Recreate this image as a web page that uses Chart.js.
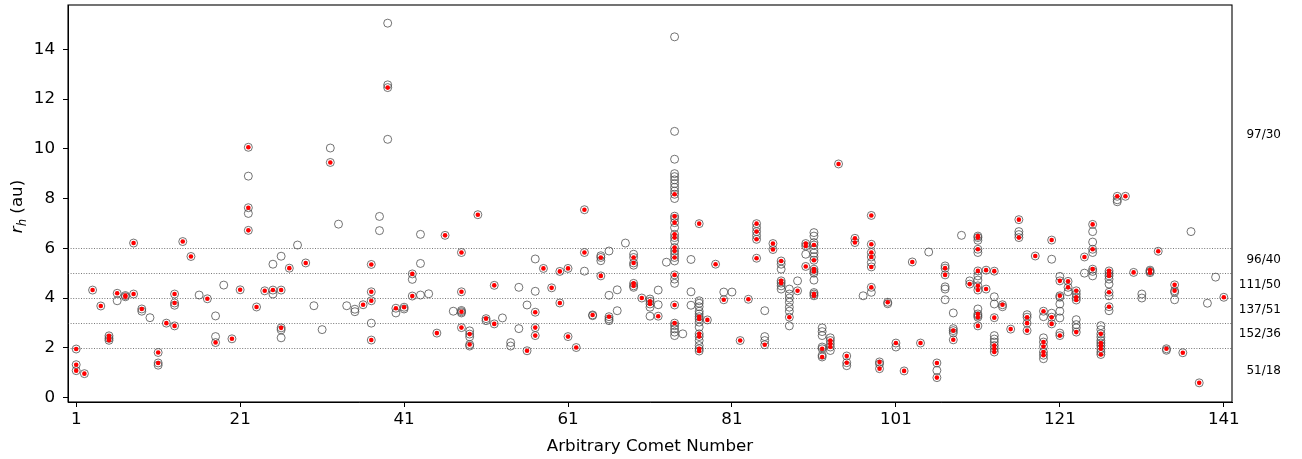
<!DOCTYPE html>
<html>
<head>
<meta charset="utf-8">
<script src="https://cdn.jsdelivr.net/npm/chart.js@4.4.1/dist/chart.umd.min.js"></script>
<style>
  html, body { margin: 0; padding: 0; background: #fff; }
  #wrap { width: 1302px; height: 459px; }
</style>
</head>
<body>
<div id="wrap"><canvas id="c" width="1302" height="459"></canvas></div>
<script>
// Heliocentric distance (au) of each observation, listed per comet (comet 1 .. 141).
// activeRh: observations where activity was detected; quietRh: the remaining observations.
const activeRh = [
  [1.95, 1.32, 1.08], [0.96], [4.32], [3.68], [2.48, 2.38, 2.3],
  [4.19], [4.1, 4.05], [6.21, 4.16], [3.56], [],
  [1.81, 1.39], [2.99], [4.16, 3.8, 2.88], [6.27], [5.67],
  [], [3.97], [2.21], [], [2.36],
  [4.33], [10.06, 7.63, 6.72], [3.64], [4.29], [4.32],
  [4.32, 2.8], [5.2], [], [5.41], [],
  [], [9.45], [], [], [],
  [3.73], [5.35, 4.25, 3.89, 2.31], [], [12.46], [3.59],
  [3.63], [4.97, 4.08], [], [], [2.59],
  [6.52], [], [5.83, 4.25, 3.45, 2.81], [2.55, 2.13], [7.35],
  [3.17], [4.51, 2.96], [], [], [],
  [1.88], [3.43, 2.81, 2.49], [5.19], [4.41], [5.07, 3.8],
  [5.19, 2.45], [2.01], [7.55, 5.83], [3.32], [5.63, 4.89],
  [3.25], [], [], [5.63, 5.41, 4.59, 4.49], [4.0],
  [3.87, 3.76], [3.27], [], [8.17, 7.29, 7.03, 6.56, 6.43, 6.03, 5.89, 5.63, 4.93, 3.72, 2.99], [],
  [], [6.99, 3.25, 3.16, 2.56, 2.45, 1.96, 1.87], [3.12], [5.36], [3.93],
  [], [2.29], [3.95], [6.99, 6.67, 6.36, 5.6], [2.12],
  [6.19, 5.95], [5.49, 4.69, 4.6], [3.23], [4.29], [6.19, 6.09, 5.27],
  [6.13, 5.52, 5.16, 5.07, 4.16, 4.09], [1.96, 1.63], [2.29, 2.16, 2.03], [9.39], [1.67, 1.4],
  [6.4, 6.23], [], [7.32, 6.16, 5.83, 5.65, 5.25, 4.43], [1.43, 1.16], [3.83],
  [2.19], [1.07], [5.45], [2.19], [],
  [1.39, 0.8], [5.2, 4.93], [2.69, 2.32], [], [4.56],
  [6.49, 6.43, 5.96, 5.09, 4.49, 4.32, 3.36, 3.23, 2.88], [5.12, 4.36], [5.08, 3.21, 2.09, 1.96, 1.83], [3.73], [2.75],
  [7.15, 6.43], [3.23, 2.99, 2.69], [5.69], [3.47, 2.23, 2.05, 1.83, 1.7], [6.33, 3.23, 2.96],
  [4.69, 4.09, 2.49], [4.67, 4.43], [4.29, 4.03, 3.92, 2.63], [5.65], [6.96, 5.96, 5.16],
  [2.56, 2.19, 2.09, 1.96, 1.73], [5.09, 4.99, 4.89, 4.23, 3.65], [8.09], [8.09], [5.03],
  [], [5.12, 5.02], [5.88], [1.96], [4.53, 4.29],
  [1.8], [], [0.59], [], [],
  [4.03]
];

const quietRh = [
  [], [], [], [], [],
  [3.89], [], [], [3.47], [3.21],
  [1.3], [], [3.71], [], [],
  [4.12], [], [3.28, 2.45], [4.52], [],
  [], [8.9, 7.4], [], [], [5.36, 4.16],
  [5.68, 2.72, 2.4], [], [6.13], [], [3.69],
  [2.73], [10.03], [6.97], [3.69], [3.55, 3.45],
  [], [2.99], [7.28, 6.71], [15.05, 12.57, 10.38], [3.4],
  [3.56], [4.75], [6.56, 5.39, 4.12], [4.17], [],
  [], [3.47], [3.5, 3.4], [2.68, 2.44, 2.07], [],
  [3.09], [], [3.2], [2.21, 2.07], [4.43, 2.77],
  [3.72], [5.57, 4.27], [], [], [],
  [], [], [5.08], [3.29], [5.7, 5.5],
  [5.89, 4.11, 3.16, 3.09], [4.33, 3.49], [6.21], [5.76, 5.32, 4.43], [],
  [3.96, 3.63, 3.27], [4.32, 3.73], [5.44],
  [14.5, 10.7, 9.58, 9.0, 8.88, 8.75, 8.6, 8.45, 8.3, 8.0, 7.2, 6.83, 6.29, 5.76, 5.49, 4.76, 4.59, 2.89, 2.76, 2.63, 2.49],
  [2.56],
  [5.55, 4.25, 3.71], [3.89, 3.79, 3.65, 3.47, 3.36, 3.03, 2.83, 2.29, 2.09], [], [], [4.24],
  [4.24], [], [], [6.83, 6.51], [3.49, 2.45, 2.29],
  [], [5.36, 5.16, 4.49, 4.36], [4.36, 4.16, 4.0, 3.83, 3.63, 3.47, 2.88], [4.69], [5.76],
  [6.63, 6.49, 6.23, 5.95, 5.8, 5.66, 5.0, 4.72, 4.22], [2.8, 2.65, 2.49, 2.03, 1.7], [2.4, 1.89], [], [1.28],
  [], [4.09], [5.43, 4.23], [1.35], [3.77],
  [2.03], [], [], [], [5.85],
  [1.09], [5.29, 4.45, 4.36, 3.93], [3.4, 2.77, 2.6], [6.52], [4.69],
  [6.32, 5.83, 4.89, 4.72, 3.56, 3.29], [], [4.05, 3.76, 2.49, 2.35, 2.23], [3.65], [],
  [6.67, 6.55], [3.33], [], [3.25, 2.4, 1.56], [5.56, 3.39],
  [4.87, 4.03, 3.76, 3.47, 3.2, 2.59], [4.25], [4.16, 3.13, 2.93, 2.8], [5.0], [6.67, 6.25, 5.83, 5.07, 4.89],
  [2.89, 2.73, 2.43, 2.29, 1.83], [4.76, 4.56, 4.09, 3.49], [7.95, 7.87], [], [],
  [4.16, 4.0], [5.07], [], [1.9], [4.23, 3.93],
  [], [6.67], [], [3.79], [4.84],
  []
];

// Axis ticks and reference levels
const xTickValues = [1, 21, 41, 61, 81, 101, 121, 141];
const yTickValues = [0, 2, 4, 6, 8, 10, 12, 14];
const referenceLevels = [2, 3, 4, 5, 6];

// Counts shown in the right margin, with the r_h at which each is written
const bandLabels = ['97/30', '96/40', '111/50', '137/51', '152/36', '51/18'];
const bandLabelRh = [10.54, 5.54, 4.54, 3.54, 2.54, 1.06];

const FONT = "'DejaVu Sans', 'Liberation Sans', sans-serif";

function toPoints(lists) {
  const pts = [];
  lists.forEach((vals, i) => vals.forEach(v => pts.push({ x: i + 1, y: v })));
  return pts;
}

const allPoints = toPoints(activeRh).concat(toPoints(quietRh));
const activePoints = toPoints(activeRh);

const decorations = {
  id: 'decorations',
  beforeDatasetsDraw(chart) {
    const { ctx, chartArea, scales } = chart;
    ctx.save();
    ctx.strokeStyle = '#555';
    ctx.lineWidth = 0.8;
    ctx.setLineDash([1, 1.6]);
    referenceLevels.forEach(v => {
      const y = Math.round(scales.y.getPixelForValue(v)) + 0.5;
      ctx.beginPath();
      ctx.moveTo(chartArea.left, y);
      ctx.lineTo(chartArea.right, y);
      ctx.stroke();
    });
    ctx.restore();
  },
  afterDraw(chart) {
    const { ctx, chartArea, scales } = chart;
    ctx.save();
    // frame
    ctx.strokeStyle = '#000';
    ctx.lineWidth = 1.1;
    ctx.strokeRect(chartArea.left, chartArea.top, chartArea.right - chartArea.left, chartArea.bottom - chartArea.top);

    // right-margin counts
    ctx.fillStyle = '#000';
    ctx.font = '12px ' + FONT;
    ctx.textAlign = 'right';
    ctx.textBaseline = 'middle';
    bandLabels.forEach((t, i) => {
      ctx.fillText(t, 1281, scales.y.getPixelForValue(bandLabelRh[i]));
    });

    // x axis title
    ctx.font = '16.7px ' + FONT;
    ctx.textAlign = 'center';
    ctx.textBaseline = 'alphabetic';
    ctx.fillText('Arbitrary Comet Number', (chartArea.left + chartArea.right) / 2, 451);

    // y axis title: italic r with subscript h, then (au)
    ctx.translate(22, (chartArea.top + chartArea.bottom) / 2 + 3);
    ctx.rotate(-Math.PI / 2);
    const fR = 'italic 16.7px ' + FONT;
    const fH = 'italic 11.7px ' + FONT;
    const fN = '16.7px ' + FONT;
    ctx.font = fR; const wR = ctx.measureText('r').width;
    ctx.font = fH; const wH = ctx.measureText('h').width;
    ctx.font = fN; const wN = ctx.measureText(' (au)').width;
    let x = -(wR + wH + wN) / 2;
    ctx.textAlign = 'left';
    ctx.font = fR; ctx.fillText('r', x, 0); x += wR;
    ctx.font = fH; ctx.fillText('h', x, 4); x += wH;
    ctx.font = fN; ctx.fillText(' (au)', x, 0);
    ctx.restore();
  }
};

new Chart(document.getElementById('c'), {
  type: 'scatter',
  data: {
    datasets: [
      {
        label: 'active',
        data: activePoints,
        order: 0,
        pointStyle: 'circle',
        pointRadius: 2.3,
        pointBorderWidth: 0,
        pointBackgroundColor: '#ff0000',
        borderColor: '#ff0000'
      },
      {
        label: 'all',
        data: allPoints,
        order: 1,
        pointStyle: 'circle',
        pointRadius: 4,
        pointBorderWidth: 1,
        pointBackgroundColor: 'rgba(255,255,255,0)',
        pointBorderColor: 'rgba(70,70,70,0.75)'
      }
    ]
  },
  options: {
    responsive: false,
    animation: false,
    events: [],
    layout: { padding: { left: 0, right: 70, top: 3, bottom: 0 } },
    plugins: { legend: { display: false }, tooltip: { enabled: false } },
    scales: {
      x: {
        type: 'linear',
        min: 0,
        max: 142,
        afterBuildTicks: s => { s.ticks = xTickValues.map(v => ({ value: v })); },
        afterFit: s => { s.height = 57; s.paddingLeft = 0; s.paddingRight = 0; },
        grid: { display: true, drawOnChartArea: false, drawTicks: true, tickLength: 5, color: '#000', lineWidth: 1 },
        border: { display: true, color: '#000', width: 1 },
        ticks: { color: '#000', font: { family: FONT, size: 16.7 }, padding: 3, maxRotation: 0, autoSkip: false }
      },
      y: {
        type: 'linear',
        min: -0.18,
        max: 15.78,
        afterBuildTicks: s => { s.ticks = yTickValues.map(v => ({ value: v })); },
        afterFit: s => { s.width = 68; s.paddingTop = 0; s.paddingBottom = 0; },
        grid: { display: true, drawOnChartArea: false, drawTicks: true, tickLength: 5, color: '#000', lineWidth: 1 },
        border: { display: true, color: '#000', width: 1 },
        ticks: { color: '#000', font: { family: FONT, size: 16.7 }, padding: 8, autoSkip: false }
      }
    }
  },
  plugins: [decorations]
});
</script>
</body>
</html>
